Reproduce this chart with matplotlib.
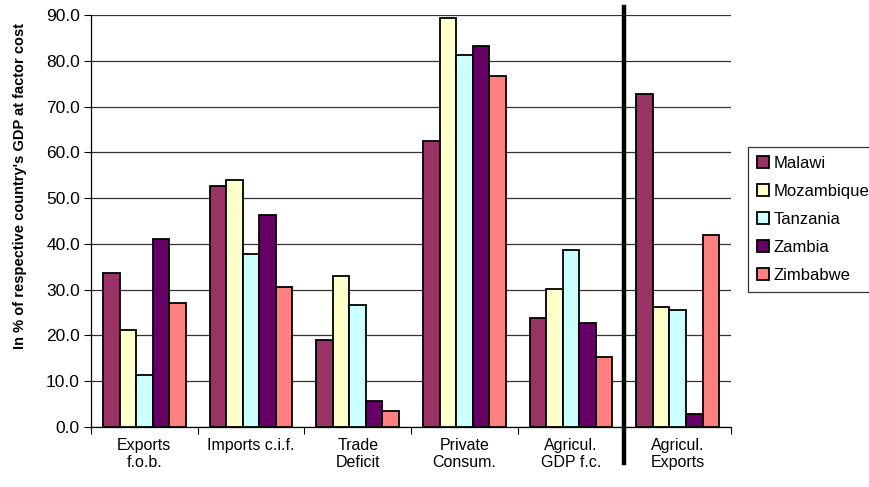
import numpy as np
import matplotlib.pyplot as plt

plt.rcParams['font.family'] = ['Liberation Sans', 'DejaVu Sans']

categories = ['Exports\nf.o.b.', 'Imports c.i.f.', 'Trade\nDeficit',
              'Private\nConsum.', 'Agricul.\nGDP f.c.', 'Agricul.\nExports']
countries = ['Malawi', 'Mozambique', 'Tanzania', 'Zambia', 'Zimbabwe']
colors = ['#993366', '#FFFFCC', '#CCFFFF', '#660066', '#FF8080']

malawi = [33.6, 52.7, 19.1, 62.4, 23.8, 72.7]
mozambique = [21.1, 53.9, 32.9, 89.3, 30.2, 26.3]
tanzania = [11.4, 37.9, 26.7, 81.3, 38.6, 25.6]
zambia = [41.0, 46.4, 5.6, 83.3, 22.8, 2.8]
zimbabwe = [27.0, 30.6, 3.6, 76.6, 15.3, 42.0]
series = [malawi, mozambique, tanzania, zambia, zimbabwe]

fig = plt.figure(figsize=(8.7, 4.87), dpi=100)
ax = fig.add_axes([0.1046, 0.1232, 0.7357, 0.8460])

x = np.arange(len(categories))
w = 0.155
for i, (name, vals, c) in enumerate(zip(countries, series, colors)):
    ax.bar(x + (i - 2) * w, vals, w, color=c, edgecolor='black',
           linewidth=1.3, label=name, zorder=3)

ax.set_xlim(-0.5, len(categories) - 0.5)
ax.set_ylim(0, 90)
ax.set_yticks(np.arange(0, 91, 10))
ax.set_yticklabels([f'{v:.1f}' for v in np.arange(0, 91, 10)], fontsize=12.5)
ax.yaxis.grid(True, color='#333333', linewidth=0.9, zorder=0)
ax.set_axisbelow(True)

# category labels sit between boundary ticks
ax.set_xticks(x)
ax.set_xticklabels(categories, fontsize=11.5, linespacing=1.15)
ax.tick_params(axis='x', length=0, pad=8)
ax.set_xticks(np.arange(-0.5, len(categories), 1), minor=True)
ax.tick_params(axis='x', which='minor', length=5, width=0.8)
ax.tick_params(axis='y', length=5, width=0.8, pad=3)

for s in ['top', 'right']:
    ax.spines[s].set_visible(False)
for s in ['left', 'bottom']:
    ax.spines[s].set_linewidth(0.9)

# thick divider before the agricultural exports group
ax.axvline(4.5, ymin=-0.088, ymax=1.019, color='black', linewidth=3.2,
           clip_on=False, zorder=4)

ax.set_ylabel("In % of respective country's GDP at factor cost",
              fontsize=10.5, fontweight='bold')
ax.yaxis.set_label_coords(-0.1, 0.585)

leg = fig.legend(loc='upper left', bbox_to_anchor=(0.86, 0.699),
                 fontsize=12, frameon=True, fancybox=False,
                 edgecolor='black', handlelength=0.7, handleheight=0.7,
                 handletextpad=0.25, labelspacing=0.78, borderpad=0.55,
                 borderaxespad=0)
leg.get_frame().set_linewidth(0.9)

fig.savefig('out.png', dpi=100)
